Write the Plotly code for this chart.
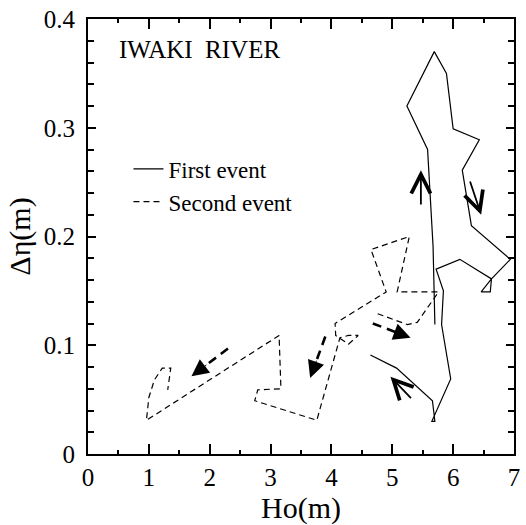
import plotly.graph_objects as go

# ---- data ----
first_x = [5.70, 5.67, 5.58, 5.24, 5.69, 5.89, 6.00, 6.43, 6.15, 6.30, 6.94, 6.63,
           6.46, 6.61, 6.63, 6.11, 5.72, 5.84, 5.81, 5.96, 5.65, 5.70, 5.66, 5.07, 4.64]
first_y = [0.119, 0.191, 0.280, 0.320, 0.370, 0.350, 0.299, 0.289, 0.261, 0.210, 0.179, 0.161,
           0.149, 0.149, 0.161, 0.179, 0.170, 0.150, 0.119, 0.069, 0.030, 0.030, 0.049, 0.079, 0.091]

second_x = [4.76, 5.25, 5.41, 5.76, 5.08, 5.28, 4.65, 4.90, 4.06, 4.07, 4.28, 4.44,
            4.28, 4.14, 3.76, 2.74, 2.79, 3.17, 3.14, 0.96, 1.00, 1.09, 1.22, 1.36, 1.31]
second_y = [0.129, 0.119, 0.121, 0.149, 0.149, 0.200, 0.188, 0.149, 0.120, 0.109, 0.101, 0.109,
            0.109, 0.107, 0.031, 0.049, 0.059, 0.060, 0.109, 0.031, 0.052, 0.068, 0.079, 0.079, 0.059]

# direction arrows: (tail_x, tail_y, tip_x, tip_y)
first_arrows = [
    (5.47, 0.228, 5.47, 0.261),
    (6.27, 0.252, 6.46, 0.220),
    (5.33, 0.050, 4.97, 0.071),
]
second_arrows = [
    (4.68, 0.120, 5.30, 0.107),
    (3.90, 0.108, 3.65, 0.070),
    (2.30, 0.097, 1.70, 0.0714),
]

x_tick_vals = [0, 1, 2, 3, 4, 5, 6, 7]
x_tick_text = ["0", "1", "2", "3", "4", "5", "6", "7"]
y_tick_vals = [0, 0.1, 0.2, 0.3, 0.4]
y_tick_text = ["0", "0.1", "0.2", "0.3", "0.4"]

FONT = "Liberation Serif"

fig = go.Figure()
fig.add_trace(go.Scatter(x=first_x, y=first_y, mode="lines", name="First event",
                         line=dict(color="black", width=1.2)))
fig.add_trace(go.Scatter(x=second_x, y=second_y, mode="lines", name="Second event",
                         line=dict(color="black", width=1.2, dash="6px,4px")))

annotations = []
for tx, ty, hx, hy in first_arrows:
    annotations.append(dict(x=hx, y=hy, ax=tx, ay=ty, xref="x", yref="y",
                            axref="x", ayref="y", text="", showarrow=True,
                            arrowhead=5, arrowsize=2.1, arrowwidth=1.8,
                            arrowcolor="black", standoff=0))
for tx, ty, hx, hy in second_arrows:
    ex = tx + 0.8 * (hx - tx)
    ey = ty + 0.8 * (hy - ty)
    fig.add_trace(go.Scatter(x=[tx, ex], y=[ty, ey], mode="lines", showlegend=False,
                             hoverinfo="skip",
                             line=dict(color="black", width=2.6, dash="9px,6px")))
    bx = hx - 0.45 * (hx - tx)
    by = hy - 0.45 * (hy - ty)
    annotations.append(dict(x=hx, y=hy, ax=bx, ay=by, xref="x", yref="y",
                            axref="x", ayref="y", text="", showarrow=True,
                            arrowhead=2, arrowsize=3.4, arrowwidth=1,
                            arrowcolor="black", standoff=0))

annotations.append(dict(x=1.84, y=0.372, xref="x", yref="y", text="IWAKI\u00a0\u00a0RIVER",
                        showarrow=False, font=dict(family=FONT, size=25, color="black")))

axis_common = dict(showline=True, linecolor="black", linewidth=2, mirror="allticks",
                   ticks="inside", tickcolor="black", tickwidth=1.5,
                   showgrid=False, zeroline=False,
                   tickfont=dict(family=FONT, size=25, color="black"))

fig.update_layout(
    width=526, height=525,
    margin=dict(l=88, r=6, t=14, b=71),
    paper_bgcolor="white", plot_bgcolor="white",
    showlegend=True,
    legend=dict(x=0.095, y=0.705, xanchor="left", yanchor="top",
                bgcolor="rgba(0,0,0,0)", font=dict(family=FONT, size=23, color="black"),
                itemwidth=30),
    annotations=annotations,
    xaxis=dict(range=[0, 7], tickvals=x_tick_vals, ticktext=x_tick_text, ticklen=10,
               minor=dict(dtick=0.5, ticklen=4, ticks="inside", tickcolor="black", tickwidth=1.5),
               title=dict(text="Ho(m)", font=dict(family=FONT, size=30, color="black"), standoff=2),
               **axis_common),
    yaxis=dict(range=[0, 0.4], tickvals=y_tick_vals, ticktext=y_tick_text, ticklen=8,
               ticklabelstandoff=6,
               minor=dict(dtick=0.02, ticklen=6, ticks="inside", tickcolor="black", tickwidth=1.5),
               title=dict(text="Δη(m)", font=dict(family=FONT, size=30, color="black"), standoff=4),
               **axis_common),
)

fig.write_html("out.html")
